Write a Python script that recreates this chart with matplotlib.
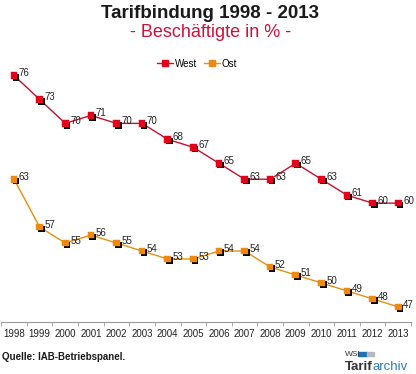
import matplotlib
matplotlib.use("Agg")
import matplotlib.pyplot as plt
import matplotlib.patheffects as pe
from matplotlib.lines import Line2D
import numpy as np

plt.rcParams['font.family'] = ['Liberation Sans', 'DejaVu Sans']

years = [str(y) for y in range(1998, 2014)]
west = [76, 73, 70, 71, 70, 70, 68, 67, 65, 63, 63, 65, 63, 61, 60, 60]
ost = [63, 57, 55, 56, 55, 54, 53, 53, 54, 54, 52, 51, 50, 49, 48, 47]

west_col = "#e3001b"
west_line = "#c8102e"
ost_col = "#ef8a10"
ost_line = "#e8900c"

fig = plt.figure(figsize=(4.16, 3.74), dpi=100)
ax = fig.add_axes([0.003, 0.139, 0.985, 0.706])

x = np.arange(len(years))
shadow = [pe.SimplePatchShadow(offset=(1.3, -1.3), shadow_rgbFace="black", alpha=1.0), pe.Normal()]

# West
ax.plot(x, west, color=west_line, lw=1.0, zorder=2)
ax.plot(x, west, ls="none", marker="s", ms=4.8, color=west_col, mec=west_col, mew=0.3,
        path_effects=shadow, zorder=3)
# Ost
ax.plot(x, ost, color=ost_line, lw=1.0, zorder=2)
ax.plot(x, ost, ls="none", marker="s", ms=4.8, color=ost_col, mec=ost_col, mew=0.3,
        path_effects=shadow, zorder=3)

for xi, v in zip(x, west):
    ax.annotate(str(v), (xi, v), xytext=(3.5, 1.5), textcoords="offset points",
                fontsize=7, va="center", ha="left", color="#222222")
for xi, v in zip(x, ost):
    ax.annotate(str(v), (xi, v), xytext=(3.5, 1.5), textcoords="offset points",
                fontsize=7, va="center", ha="left", color="#222222")

handles = [Line2D([0], [0], color=west_line, lw=1.0, marker="s", ms=4, mfc=west_col, mec=west_col),
           Line2D([0], [0], color=ost_line, lw=1.0, marker="s", ms=4, mfc=ost_col, mec=ost_col)]
ax.legend(handles, ["West", "Ost"], loc="upper center", bbox_to_anchor=(0.478, 1.03),
          ncol=2, frameon=False, fontsize=7, handlelength=1.7, handletextpad=0.15,
          columnspacing=0.7)

ax.set_xlim(-0.5, len(years) - 0.5)
ax.set_ylim(45.1, 78.2)
ax.set_xticks(x)
ax.set_xticklabels(years, fontsize=7, color="#222222")
ax.set_xticks(np.arange(-0.5, len(years), 1), minor=True)
ax.tick_params(axis="x", which="major", length=0, pad=5)
ax.tick_params(axis="x", which="minor", length=3, color="#999999")
ax.set_yticks([])
for s in ["top", "right", "left"]:
    ax.spines[s].set_visible(False)
ax.spines["bottom"].set_color("#999999")
ax.spines["bottom"].set_linewidth(0.8)

fig.text(0.505, 0.987, "Tarifbindung 1998 - 2013", ha="center", va="top",
         fontsize=13.5, fontweight="bold", color="#1a1a1a")
fig.text(0.505, 0.935, "- Beschäftigte in % -", ha="center", va="top",
         fontsize=13, color="#d0103a")

fig.text(0.006, 0.045, "Quelle: IAB-Betriebspanel.", ha="left", va="center",
         fontsize=7, fontweight="bold", color="#1a1a1a")

# logo
fig.text(0.829, 0.052, "WSI", ha="left", va="center", fontsize=6, color="#333333")
fig.patches.append(plt.Rectangle((0.861, 0.049), 0.022, 0.01, transform=fig.transFigure,
                                 color="#1f6fb5", figure=fig))
fig.patches.append(plt.Rectangle((0.883, 0.049), 0.017, 0.01, transform=fig.transFigure,
                                 color="#b5b9bf", figure=fig))
t1 = fig.text(0.829, 0.019, "Tarif", ha="left", va="center", fontsize=9.5,
              fontweight="bold", color="#333333")
fig.canvas.draw()
bb = t1.get_window_extent().transformed(fig.transFigure.inverted())
fig.text(bb.x1, 0.019, "archiv", ha="left", va="center", fontsize=9.5, color="#2a7bc0")

fig.savefig("out.png", dpi=100)
